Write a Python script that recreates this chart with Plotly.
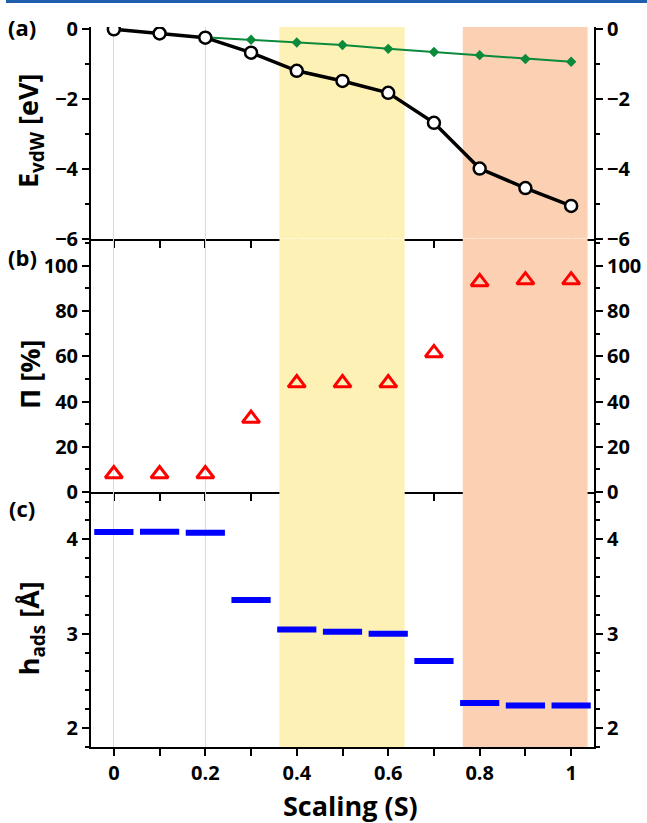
import plotly.graph_objects as go

# ---- data ----
S = [0.0, 0.1, 0.2, 0.3, 0.4, 0.5, 0.6, 0.7, 0.8, 0.9, 1.0]
E_vdw_total = [0.0, -0.12, -0.24, -0.67, -1.19, -1.48, -1.82, -2.68, -3.99, -4.55, -5.06]
S_green = [0.2, 0.3, 0.4, 0.5, 0.6, 0.7, 0.8, 0.9, 1.0]
E_vdw_green = [-0.23, -0.30, -0.38, -0.45, -0.56, -0.65, -0.74, -0.85, -0.93]
Pi_percent = [8.0, 8.0, 8.0, 32.5, 48.2, 48.2, 48.2, 61.5, 92.9, 93.7, 93.7]
h_ads = [4.077, 4.08, 4.07, 3.356, 3.046, 3.02, 3.00, 2.71, 2.265, 2.24, 2.24]

x_tickvals = [0, 0.2, 0.4, 0.6, 0.8, 1.0]
x_ticktext = ["0", "0.2", "0.4", "0.6", "0.8", "1"]
x_minorvals = [0.1, 0.3, 0.5, 0.7, 0.9]

yellow_region = [0.362, 0.636]
peach_region = [0.763, 1.036]

x_range = [-0.05, 1.05]
ya_range = [-6, 0.066]
yb_range = [0, 112]
yc_range = [1.8, 4.5]

FONT = "Open Sans"
tickfont = dict(family=FONT, size=20, color="black", weight="bold")

fig = go.Figure()

# panel (a)
fig.add_trace(go.Scatter(x=S_green, y=E_vdw_green, mode="lines+markers", xaxis="x", yaxis="y",
                         line=dict(color="#0b8a3c", width=2),
                         marker=dict(symbol="diamond", size=8, color="#0b8a3c"),
                         showlegend=False, hoverinfo="skip"))
fig.add_trace(go.Scatter(x=S, y=E_vdw_total, mode="lines+markers", xaxis="x", yaxis="y",
                         line=dict(color="black", width=3.5),
                         marker=dict(symbol="circle", size=12, color="white",
                                     line=dict(color="black", width=2.5)),
                         showlegend=False, hoverinfo="skip"))
# panel (b)
fig.add_trace(go.Scatter(x=S, y=Pi_percent, mode="markers", xaxis="x2", yaxis="y2",
                         marker=dict(symbol="triangle-up-open", size=15, color="#ff0000",
                                     line=dict(color="#ff0000", width=3)),
                         showlegend=False, hoverinfo="skip"))
# panel (c)
fig.add_trace(go.Scatter(x=S, y=h_ads, mode="markers", xaxis="x3", yaxis="y3",
                         marker=dict(symbol="line-ew", size=28, color="#0000ff",
                                     line=dict(color="#0000ff", width=6)),
                         showlegend=False, hoverinfo="skip"))

# invisible clones for right-hand axes
for xa, ya, yy in [("x", "y4", E_vdw_total), ("x2", "y5", Pi_percent), ("x3", "y6", h_ads)]:
    fig.add_trace(go.Scatter(x=S, y=yy, mode="markers", xaxis=xa, yaxis=ya,
                             marker=dict(opacity=0), showlegend=False, hoverinfo="skip"))

dom_c = [0, 0.354]
dom_b = [0.354, 0.706]
dom_a = [0.706, 1.0]

def xaxis(anchor, labels):
    d = dict(domain=[0, 1], anchor=anchor, range=x_range, autorange=False, automargin=False,
             showline=True, linecolor="black", linewidth=2,
             ticks="outside", ticklen=7, tickwidth=2, tickcolor="black",
             tickmode="array", tickvals=x_tickvals,
             showticklabels=labels, tickfont=tickfont,
             minor=dict(tickmode="array", tickvals=x_minorvals,
                        ticks="outside", ticklen=7, tickwidth=2, tickcolor="black", showgrid=False),
             showgrid=True, gridcolor="#dadada", gridwidth=1, zeroline=False)
    if labels:
        d["ticktext"] = x_ticktext
    return d

def yaxis(anchor, dom, rng, dtick, minor_dtick, side="left", overlay=None):
    d = dict(anchor=anchor, range=rng, autorange=False, side=side, automargin=False,
             showline=True, linecolor="black", linewidth=2,
             ticks="outside", ticklen=7, tickwidth=2, tickcolor="black",
             tick0=0, dtick=dtick, tickfont=tickfont,
             minor=dict(tick0=0, dtick=minor_dtick, ticks="outside", ticklen=4, tickwidth=2,
                        tickcolor="black", showgrid=False),
             showgrid=False, zeroline=False)
    if overlay:
        d["overlaying"] = overlay
    else:
        d["domain"] = dom
    return d

fig.update_layout(
    width=647, height=823,
    margin=dict(l=91, r=53, t=27, b=76, autoexpand=False),
    paper_bgcolor="white", plot_bgcolor="white",
    font=dict(family=FONT, color="black"),
    xaxis=xaxis("y", False),
    xaxis2=xaxis("y2", False),
    xaxis3=xaxis("y3", True),
    yaxis=yaxis("x", dom_a, ya_range, 2, 1),
    yaxis2=yaxis("x2", dom_b, yb_range, 20, 10),
    yaxis3=yaxis("x3", dom_c, yc_range, 1, 0.2),
    yaxis4=yaxis("x", dom_a, ya_range, 2, 1, side="right", overlay="y"),
    yaxis5=yaxis("x2", dom_b, yb_range, 20, 10, side="right", overlay="y2"),
    yaxis6=yaxis("x3", dom_c, yc_range, 1, 0.2, side="right", overlay="y3"),
)

shapes = []
for (x0, x1), col in [(yellow_region, "#fdf1b6"), (peach_region, "#fcd1b3")]:
    for xr, yr, rng in [("x", "y", ya_range), ("x2", "y2", yb_range), ("x3", "y3", yc_range)]:
        shapes.append(dict(type="rect", xref=xr, yref=yr, x0=x0, x1=x1, y0=rng[0], y1=rng[1],
                           fillcolor=col, line=dict(width=0), layer="between"))
# page top rule
shapes.append(dict(type="rect", xref="paper", yref="paper", x0=-0.169, x1=1.106,
                   y0=1.0333, y1=1.0375, fillcolor="#1f5fae", line=dict(width=0), layer="above"))
fig.update_layout(shapes=shapes)

title_font = dict(family=FONT, size=27, color="black", weight="bold")
label_font = dict(family=FONT, size=22, color="black", weight="bold")
ann = [
    dict(text="E<sub>vdW</sub> [eV]", x=-0.121, y=0.8556, textangle=-90),
    dict(text="\u03a0 [%]", x=-0.121, y=0.517, textangle=-90),
    dict(text="h<sub>ads</sub> [\u00c5]", x=-0.121, y=0.165, textangle=-90),
    dict(text="Scaling (S)", x=0.515, y=-0.0806, textangle=0),
]
annotations = []
for a in ann:
    annotations.append(dict(xref="paper", yref="paper", showarrow=False, xanchor="center",
                            yanchor="middle", font=title_font, **a))
for txt, yy in [("(a)", 1.0), ("(b)", 0.6806), ("(c)", 0.332)]:
    annotations.append(dict(xref="paper", yref="paper", showarrow=False, xanchor="center",
                            yanchor="middle", text=txt, x=-0.137, y=yy, font=label_font))
fig.update_layout(annotations=annotations)

fig.write_html("out.html", config={"displayModeBar": False},
               post_script="document.body.style.margin='0px';")
